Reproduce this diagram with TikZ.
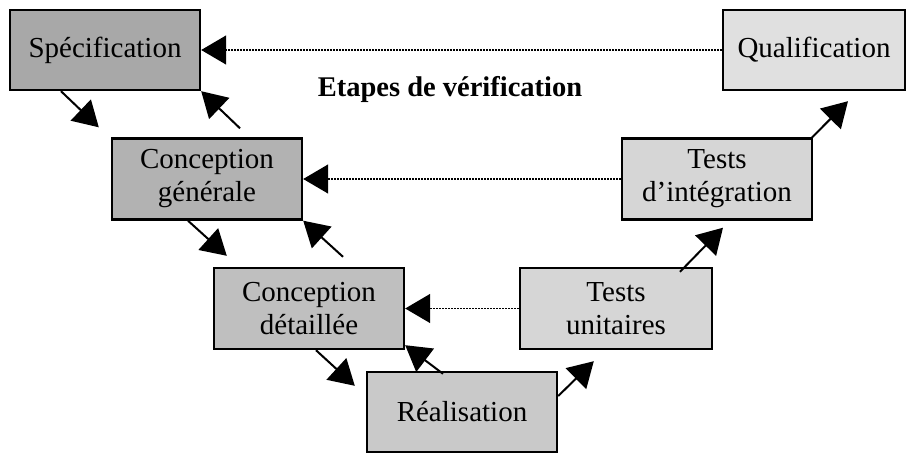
\documentclass[tikz,border=0pt]{standalone}
\usepackage{fontspec}
\setmainfont{Liberation Serif}
\usetikzlibrary{arrows.meta}
\definecolor{grisspec}{gray}{0.66}
\definecolor{grisgen}{gray}{0.70}
\definecolor{grisdet}{gray}{0.75}
\definecolor{grisreal}{gray}{0.79}
\definecolor{gristest}{gray}{0.84}
\definecolor{grisqual}{gray}{0.88}

\begin{document}
\begin{tikzpicture}[x=1pt, y=-1pt,
	etape/.style={draw, line width=2.4pt, minimum width=190pt, minimum height=81pt,
		inner sep=0pt, align=center, font=\fontsize{29}{33}\selectfont},
	fleche/.style={line width=2pt, -{Triangle[length=25pt,width=29pt]}},
	verif/.style={line width=1.4pt, dash pattern=on 1.4pt off 1.6pt, -{Triangle[length=25pt,width=29pt]}}]
			%%%%% START %%%%%
			
			\useasboundingbox (0, 0) rectangle (906, 453);
			
			% branche descendante
			\node[etape, fill=grisspec, minimum height=80pt] (spec) at (105, 50) {Sp\'ecification};
			\node[etape, fill=grisgen] (gen) at (207, 179) {Conception\\g\'en\'erale};
			\node[etape, fill=grisdet] (det) at (309, 308.5) {Conception\\d\'etaill\'ee};
			\node[etape, fill=grisreal, minimum height=80pt] (real) at (462, 412) {R\'ealisation};
			
			% branche montante
			\node[etape, fill=gristest, minimum width=192pt] (unit) at (616, 308.5) {Tests\\unitaires};
			\node[etape, fill=gristest] (integ) at (717, 179) {Tests\\d’int\'egration};
			\node[etape, fill=grisqual, minimum width=182pt, minimum height=80pt] (qual) at (814, 50) {Qualification};
			
			\node[font=\fontsize{28.5}{28.5}\selectfont\bfseries] (titre) at (450, 89) {Etapes de v\'erification};
			
			% fleches du cycle
			\draw[fleche] ([xshift=-44pt]spec.south) -- ([shift={(-12pt,10pt)}]gen.north west);
			\draw[fleche] ([shift={(33pt,9pt)}]gen.north) -- (spec.south east);
			
			\draw[fleche] ([xshift=-19pt]gen.south) -- ([shift={(14pt,11pt)}]det.north west);
			\draw[fleche] ([shift={(34pt,10pt)}]det.north) -- (gen.south east);
			
			\draw[fleche] ([xshift=7pt]det.south) -- ([shift={(-11pt,-15pt)}]real.north west);
			\draw[fleche] ([shift={(-19pt,-3pt)}]real.north) -- ([yshift=5pt]det.south east);
			
			\draw[fleche] ([yshift=16pt]real.east) -- ([shift={(75pt,-11pt)}]unit.south west);
			\draw[fleche] ([shift={(64pt,-5pt)}]unit.north) -- ([shift={(6pt,-7pt)}]integ.south);
			\draw[fleche] ([shift={(-2pt,-1pt)}]integ.north east) -- ([shift={(34pt,-10pt)}]qual.south);
			
			% etapes de verification
			\draw[verif] (qual.west) -- (spec.east);
			\draw[verif] (integ.west) -- (gen.east);
			\draw[verif] (unit.west) -- (det.east);
			
			%%%%% END %%%%%
		\end{tikzpicture}
\end{document}
